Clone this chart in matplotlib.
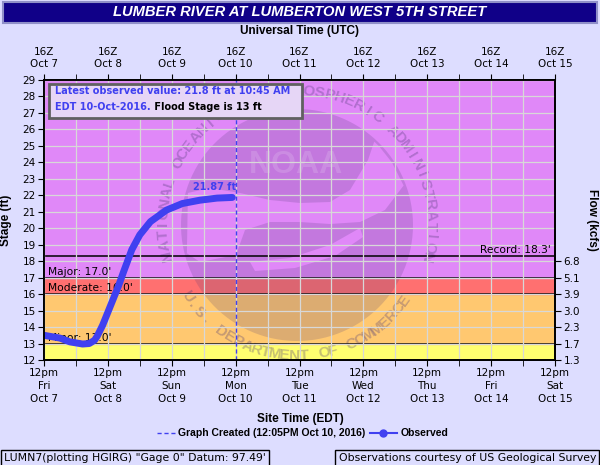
import numpy as np
import pandas as pd
import matplotlib
matplotlib.use("Agg")
import matplotlib.pyplot as plt
from matplotlib.patches import Rectangle, PathPatch
from matplotlib.path import Path
from matplotlib.lines import Line2D

plt.rcParams["font.family"] = "DejaVu Sans"

# observed stage (ft), EDT
obs_times = ["2016-10-07 12:00", "2016-10-07 18:00", "2016-10-07 21:45", "2016-10-08 02:30",
             "2016-10-08 05:00", "2016-10-08 07:00", "2016-10-08 08:00", "2016-10-08 10:00",
             "2016-10-08 12:00", "2016-10-08 14:00", "2016-10-08 16:00", "2016-10-08 18:00",
             "2016-10-08 21:00", "2016-10-09 00:00", "2016-10-09 04:00", "2016-10-09 10:00",
             "2016-10-09 16:00", "2016-10-09 22:30", "2016-10-10 05:00", "2016-10-10 10:45"]
obs_stage = [13.5, 13.33, 13.1, 12.97, 13.0, 13.2, 13.45, 14.1, 14.9, 15.7, 16.5, 17.4,
             18.7, 19.6, 20.4, 21.1, 21.5, 21.7, 21.83, 21.87]

flood_levels = {"Minor": 13.0, "Moderate": 16.0, "Major": 17.0}
record_stage = 18.3
flow_ticks = [12, 13, 14, 15, 16, 17, 18]
flow_labels = ["1.3", "1.7", "2.3", "3.0", "3.9", "5.1", "6.8"]
day_names = ["Fri", "Sat", "Sun", "Mon", "Tue", "Wed", "Thu", "Fri", "Sat"]
created = "2016-10-10 12:05"

t = pd.to_datetime(obs_times)
t0 = pd.Timestamp("2016-10-07 12:00")
t1 = pd.Timestamp("2016-10-15 12:00")

bg = "#DDDDFF"
blue = "#4040F0"
W, H = 600, 465

fig = plt.figure(figsize=(6, 4.65), dpi=100, facecolor=bg)
ax = fig.add_axes([44/W, 1-360/H, 511/W, 280/H])
ax.set_xlim(t0, t1)
ax.set_ylim(12, 29)

# flood category bands
ax.axhspan(12, 13, color="#FFFF70", zorder=0)
ax.axhspan(13, 16, color="#FFC870", zorder=0)
ax.axhspan(16, 17, color="#FF7070", zorder=0)
ax.axhspan(17, 29, color="#E088F8", zorder=0)

# faint NOAA seal watermark (pixel coords, top-left origin)
cx, cy, r = 297, 225, 116
def px(x, y):
    return (x/100, (H - y)/100)

def clip_in(xs, ys):
    pts = []
    for x, y in zip(xs, ys):
        d = np.hypot(x - cx, y - cy)
        if d > 0.98*r:
            x, y = cx + (x - cx)*0.98*r/d, cy + (y - cy)*0.98*r/d
        pts.append(px(x, y))
    return pts

ang = np.linspace(0, 2*np.pi, 120)
disk = [px(cx + r*np.cos(a), cy - r*np.sin(a)) for a in ang]
wing = clip_in([178, 210, 240, 270, 300, 330, 350, 368, 385, 400, 412, 405, 385, 360, 330,
                300, 270, 245, 236, 200, 180],
               [190, 188, 193, 200, 203, 202, 190, 160, 130, 128, 150, 185, 210, 222, 224,
                222, 222, 230, 255, 262, 255])
tail = clip_in([250, 290, 330, 360, 363, 335, 295, 255],
               [262, 258, 245, 228, 237, 256, 268, 271])
verts, codes = [], []
for poly in (disk, wing, tail):
    verts += poly + [poly[0]]
    codes += [Path.MOVETO] + [Path.LINETO]*(len(poly)-1) + [Path.CLOSEPOLY]
ax.add_patch(PathPatch(Path(verts, codes), transform=fig.dpi_scale_trans,
                       facecolor="#503C78", alpha=0.2, edgecolor="none", zorder=0.5))
ax.text(*px(296, 165), "NOAA", transform=fig.dpi_scale_trans, fontsize=23, fontweight="bold",
        color="white", alpha=0.15, ha="center", va="center", zorder=0.6, family="Liberation Sans")

def ring_text(s, a_start, a_end, rr, top):
    angs = np.linspace(a_start, a_end, len(s))
    for ch, a in zip(s, angs):
        ar = np.radians(a)
        rot = a - 90 if top else a + 90
        ax.text(*px(cx + rr*np.cos(ar), cy - rr*np.sin(ar)), ch, transform=fig.dpi_scale_trans,
                rotation=rot, rotation_mode="anchor", ha="center", va="center",
                fontsize=11, fontweight="bold", color="#503C78", alpha=0.32, zorder=0.6,
                family="Liberation Sans")

ring_text("NATIONAL OCEANIC AND ATMOSPHERIC ADMINISTRATION", 193, -14, 134, True)
ring_text("U.S. DEPARTMENT OF COMMERCE", 213, 325, 131, False)

# ticks and grid
days = pd.date_range(t0, t1, freq="D")
ax.set_xticks(days)
ax.set_xticks(days[:-1] + pd.Timedelta(hours=12), minor=True)
ax.set_xticklabels(["12pm\n%s\n%s" % (d, x.strftime("Oct %-d")) for d, x in zip(day_names, days)])
for lbl in ax.get_xticklabels():
    lbl.set_linespacing(1.35)
ax.set_yticks(range(12, 30))
ax.grid(True, which="both", color="#D8D8D8", lw=0.9)
for gl in ax.get_xgridlines() + ax.get_ygridlines() + ax.xaxis.get_minorticklines():
    gl.set_zorder(1)
ax.set_axisbelow(False)
ax.tick_params(axis="both", which="both", direction="out", length=4, labelsize=7.5, pad=2)
ax.tick_params(axis="y", right=False)

# flood lines
for name, lev in flood_levels.items():
    ax.axhline(lev, color="black", lw=1.1, zorder=2)
    ax.text(t0 + pd.Timedelta(hours=1.5), lev + 0.06, "%s: %.1f'" % (name, lev),
            fontsize=7.7, va="bottom", ha="left", zorder=3)
ax.axhline(record_stage, color="black", lw=1.1, zorder=2)
ax.text(t1 - pd.Timedelta(hours=1.5), record_stage + 0.06, "Record: %.1f'" % record_stage,
        fontsize=7.7, va="bottom", ha="right", zorder=3)

# graph created line
ax.axvline(pd.Timestamp(created), color=blue, lw=1, ls=(0, (3, 2)), zorder=3)

# observed
ax.plot(t, obs_stage, color=blue, lw=5.0, solid_capstyle="round", zorder=4)
ax.text(t[-1] + pd.Timedelta(hours=1.5), obs_stage[-1] + 0.3, "%.2f ft" % obs_stage[-1],
        color=blue, fontsize=7, fontweight="bold", ha="right", va="bottom", zorder=5)

ax.set_ylabel("Stage (ft)", fontsize=8.5, fontweight="bold", family="Liberation Sans")
ax.yaxis.set_label_coords(-32/511, 0.5)

# right flow axis
axr = ax.twinx()
axr.set_ylim(12, 29)
axr.set_yticks(flow_ticks)
axr.set_yticklabels(flow_labels)
axr.tick_params(direction="out", length=4, labelsize=7.5, pad=2)
axr.set_ylabel("Flow (kcfs)", fontsize=8.5, fontweight="bold", rotation=270,
               family="Liberation Sans", va="center")
axr.yaxis.set_label_coords(1 + 37/511, 0.5)

# top UTC axis
axt = ax.twiny()
axt.set_xlim(t0, t1)
axt.set_xticks(days)
axt.set_xticklabels(["16Z\n%s" % x.strftime("Oct %-d") for x in days])
for lbl in axt.get_xticklabels():
    lbl.set_linespacing(1.25)
axt.set_xticks(days[:-1] + pd.Timedelta(hours=12), minor=True)
axt.tick_params(which="both", direction="out", length=4, labelsize=7.5, pad=4)

for a in (ax, axr, axt):
    for s in a.spines.values():
        s.set_linewidth(1.1)

fig.text(299/W, 1-31/H, "Universal Time (UTC)", fontsize=8.5, fontweight="bold",
         family="Liberation Sans", ha="center", va="center")

# latest value box
fig.patches.append(Rectangle((49/W, 1-118/H), 253/W, 34/H, transform=fig.transFigure,
                             facecolor="#E6D6F6", edgecolor="#606060", lw=2, zorder=6))
fig.text(55/W, 1-91/H, "Latest observed value: 21.8 ft at 10:45 AM", color=blue,
         fontsize=7.0, fontweight="bold", va="center", zorder=7)
t2 = fig.text(55/W, 1-107/H, "EDT 10-Oct-2016.", color=blue,
              fontsize=7.0, fontweight="bold", va="center", zorder=7)
fig.canvas.draw()
bb = t2.get_window_extent()
fig.text(bb.x1/W, 1-107/H, " Flood Stage is 13 ft", color="black",
         fontsize=7.0, fontweight="bold", va="center", zorder=7)

# title bar
fig.patches.append(Rectangle((3/W, 1-23/H), 594/W, 21/H, transform=fig.transFigure,
                             facecolor="#100088", edgecolor="#9090C8", lw=1.5))
fig.text(0.5, 1-12.5/H, "LUMBER RIVER AT LUMBERTON WEST 5TH STREET", color="white",
         family="Liberation Sans", fontsize=10.6, fontweight="bold", style="italic",
         ha="center", va="center")

# bottom labels
fig.text(300/W, 1-419/H, "Site Time (EDT)", fontsize=8.5, fontweight="bold",
         family="Liberation Sans", ha="center", va="center")
fig.lines.append(Line2D([157/W, 175/W], [1-433/H]*2, transform=fig.transFigure,
                        color=blue, lw=1, ls=(0, (3, 2))))
fig.text(178/W, 1-433/H, "Graph Created (12:05PM Oct 10, 2016)", fontsize=7.5,
         fontweight="bold", family="Liberation Sans", va="center")
fig.lines.append(Line2D([370/W, 397/W], [1-433/H]*2, transform=fig.transFigure,
                        color=blue, lw=1.5))
fig.lines.append(Line2D([383/W], [1-433/H], transform=fig.transFigure, color=blue,
                        marker="o", ms=5))
fig.text(401/W, 1-433/H, "Observed", fontsize=7.5, fontweight="bold",
         family="Liberation Sans", va="center")

fig.text(4/W, 1-458/H, "LUMN7(plotting HGIRG) \"Gage 0\" Datum: 97.49'", fontsize=7.8,
         va="center", bbox=dict(boxstyle="square,pad=0.3", facecolor=bg, edgecolor="black", lw=1))
fig.text(596/W, 1-458/H, "Observations courtesy of US Geological Survey", fontsize=7.8,
         va="center", ha="right",
         bbox=dict(boxstyle="square,pad=0.3", facecolor=bg, edgecolor="black", lw=1))

fig.savefig("out.png", dpi=100, facecolor=bg)
